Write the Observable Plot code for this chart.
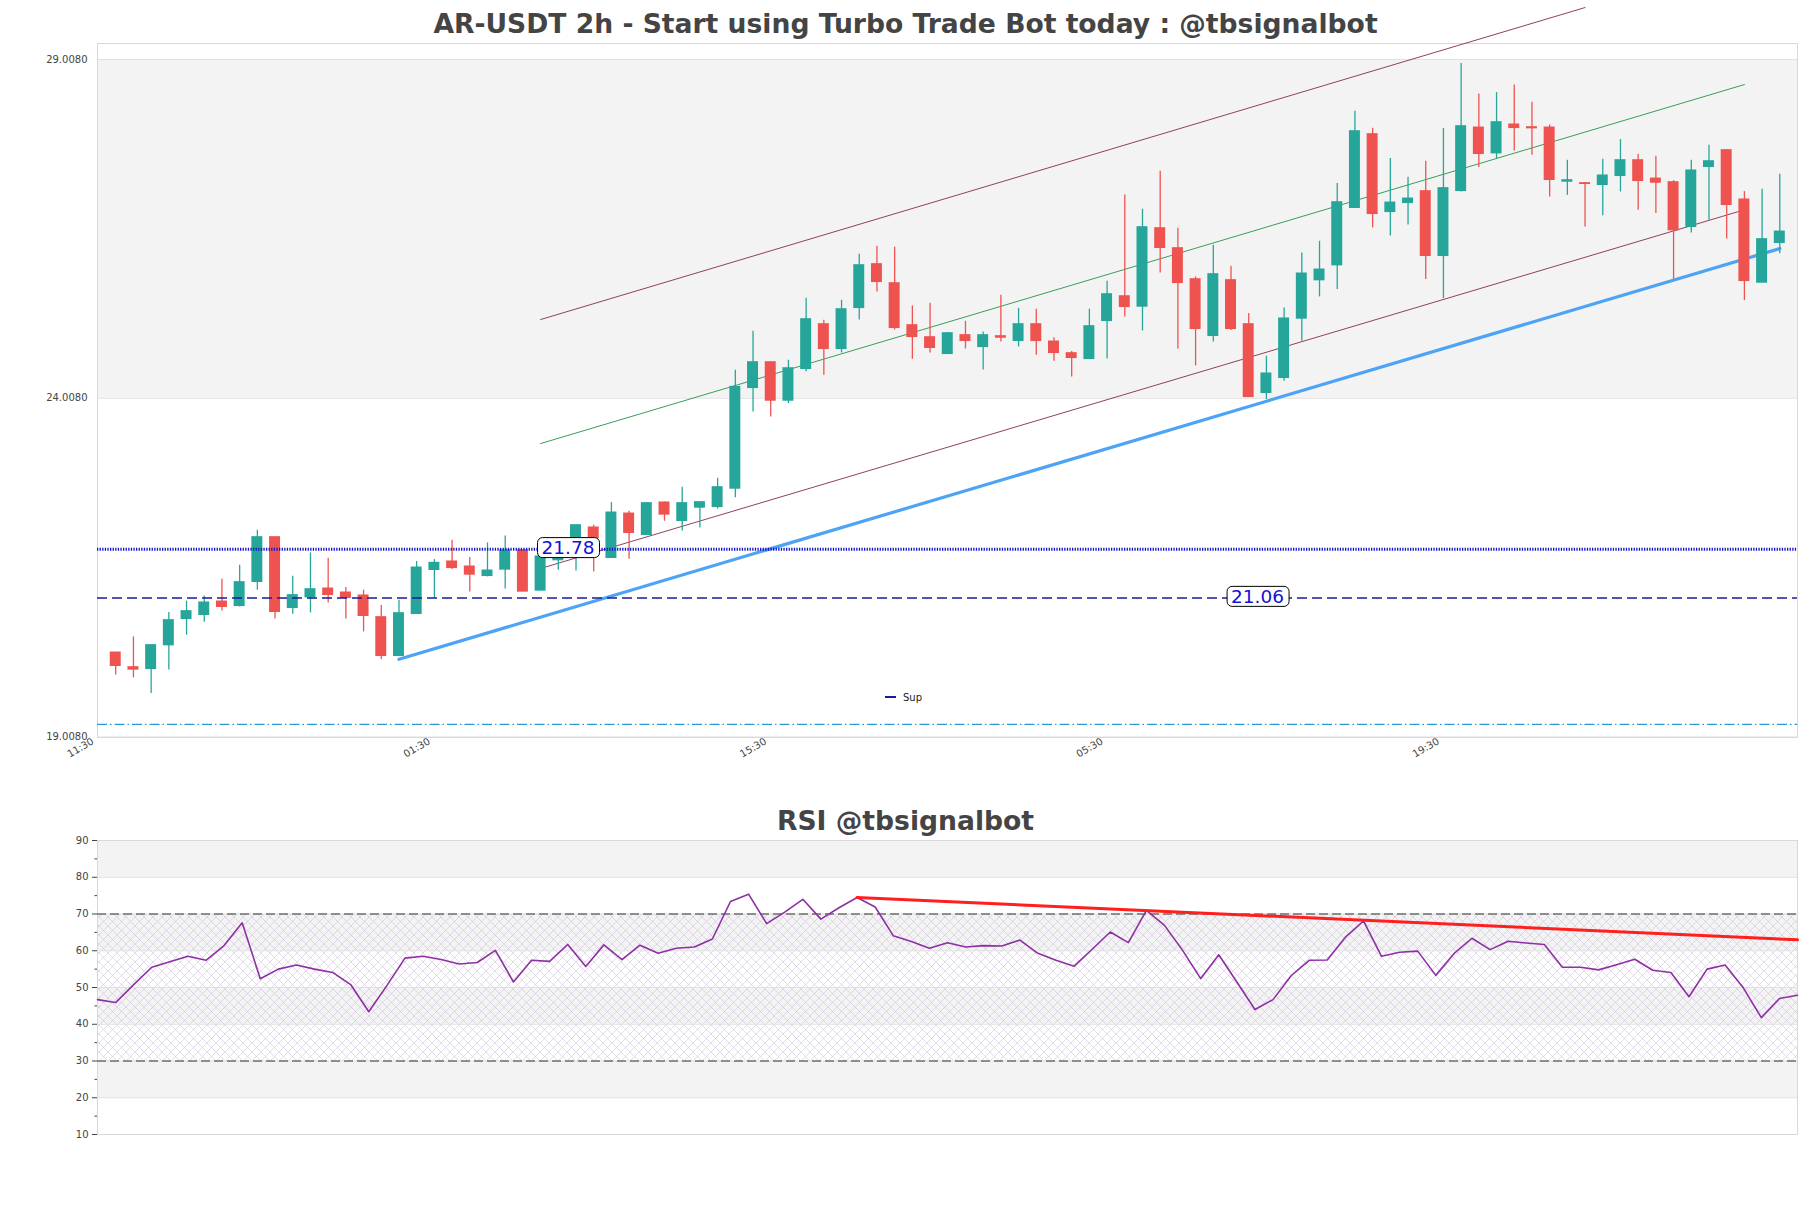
<!DOCTYPE html>
<html>
<head>
<meta charset="utf-8">
<script src="https://cdn.jsdelivr.net/npm/d3@7"></script>
<script src="https://cdn.jsdelivr.net/npm/@observablehq/plot@0.6"></script>
<style>
  html, body { margin: 0; padding: 0; background: #fff; }
  #fig { position: relative; width: 1811px; height: 1208px; overflow: hidden; background: #fff; font-family: "DejaVu Sans", sans-serif; }
  #fig > svg { position: absolute; left: 0; }
</style>
</head>
<body>
<div id="fig">
  <svg id="overlay" width="1811" height="1208" style="top:0">
    <defs>
      <pattern id="rsiHatch" patternUnits="userSpaceOnUse" width="9" height="9">
        <path d="M0,0 L9,9 M9,0 L0,9" stroke="#c4b5d2" stroke-width="0.6" fill="none" opacity="0.8"/>
      </pattern>
    </defs>
  </svg>
</div>
<script>
// ---------------- DATA ----------------
const chartTitle = "AR-USDT 2h - Start using Turbo Trade Bot today : @tbsignalbot";
const rsiTitle = "RSI @tbsignalbot";

const candleOpen = [20.253,20.037,20.012,20.362,20.750,20.810,21.006,20.942,21.297,21.956,
  20.913,21.070,21.198,21.139,21.095,20.775,20.204,20.824,21.474,21.597,
  21.523,21.385,21.479,21.764,21.169,21.617,21.676,22.099,21.651,22.305,
  21.991,22.468,22.197,22.394,22.403,22.674,24.160,24.539,23.973,24.441,
  25.100,24.736,25.341,25.986,25.705,25.085,24.908,24.662,24.938,24.765,
  24.923,24.854,25.100,24.844,24.672,24.588,25.149,25.513,25.361,26.517,
  26.222,25.764,24.928,25.750,25.100,24.086,24.308,25.184,25.750,25.971,
  26.818,27.905,26.758,26.891,27.064,26.109,27.068,28.003,27.624,28.048,
  28.008,28.003,27.206,27.182,27.157,27.290,27.521,27.250,27.196,26.537,
  27.423,27.669,26.941,25.715,26.301];
const candleHigh = [20.253,20.485,20.362,20.844,21.011,21.090,21.336,21.543,22.059,21.956,
  21.380,21.725,21.646,21.213,21.174,20.947,21.026,21.597,21.626,21.912,
  21.656,21.872,21.976,21.764,21.671,21.705,22.133,22.133,22.468,22.340,
  22.468,22.478,22.694,22.473,22.827,24.421,24.997,24.544,24.569,25.484,
  25.159,25.454,26.133,26.251,26.237,25.371,25.410,24.977,25.144,24.987,
  25.528,25.336,25.322,24.903,24.697,25.322,25.735,27.009,26.798,27.359,
  26.517,25.799,26.266,25.956,25.258,24.628,25.341,26.153,26.325,27.177,
  28.245,27.994,27.546,27.270,27.506,27.989,28.948,28.500,28.520,28.633,
  28.377,28.043,27.521,27.192,27.536,27.826,27.610,27.580,27.221,27.521,
  27.742,27.669,27.059,27.093,27.314];
const candleLow = [19.924,19.880,19.648,19.998,20.509,20.701,20.869,20.928,21.174,20.750,
  20.819,20.839,20.987,20.750,20.559,20.150,20.204,20.824,21.060,21.479,
  21.149,21.371,21.193,21.154,21.169,21.469,21.459,21.444,21.651,21.631,
  21.991,22.192,22.049,22.093,22.374,22.541,23.806,23.732,23.929,24.401,
  24.347,24.677,25.164,25.577,25.016,24.583,24.677,24.662,24.736,24.426,
  24.839,24.765,24.642,24.554,24.322,24.578,24.588,25.208,25.002,25.858,
  24.736,24.485,24.839,25.007,24.027,23.988,24.259,24.849,25.504,25.612,
  26.818,26.522,26.404,26.567,25.760,25.479,27.054,27.413,27.546,27.659,
  27.595,26.980,27.004,26.537,26.704,27.054,26.783,26.734,25.760,26.448,
  26.635,26.360,25.450,25.715,26.143];
const candleClose = [20.057,20.003,20.362,20.731,20.864,20.992,20.928,21.292,21.956,20.854,
  21.100,21.188,21.105,21.060,20.795,20.204,20.834,21.508,21.577,21.503,
  21.405,21.464,21.764,21.154,21.671,21.666,22.133,21.946,22.320,22.020,
  22.458,22.291,22.458,22.473,22.694,24.175,24.539,23.973,24.450,25.174,
  24.736,25.321,25.971,25.725,25.046,24.913,24.751,24.967,24.854,24.938,
  24.903,25.100,24.854,24.677,24.603,25.071,25.543,25.356,26.532,26.227,
  25.710,25.031,25.838,25.031,24.027,24.372,25.184,25.848,25.907,26.901,
  27.949,26.729,26.896,26.955,26.109,27.108,28.023,27.615,28.082,27.998,
  27.994,27.231,27.226,27.172,27.295,27.521,27.216,27.191,26.488,27.369,
  27.506,26.862,25.740,26.355,26.468];

const xTickIndex = [-1, 18, 37, 56, 75];
const xTickLabels = ["11:30", "01:30", "15:30", "05:30", "19:30"];
const priceTicks = [19.008, 24.008, 29.008];
const priceBands = [[24.008, 29.008]];

const supportLine = [{i: 16, v: 20.155}, {i: 94, v: 26.218}];
const channelUpper = [{i: 24, v: 25.170}, {i: 83, v: 29.776}];
const channelMid = [{i: 24, v: 23.339}, {i: 92, v: 28.639}];
const channelLower = [{i: 24, v: 21.495}, {i: 92, v: 26.790}];

const levelDotted = [21.78];
const levelDashed = [21.06];
const levelDashDot = [19.195];
const levelLabels = [{at: 25.55, value: 21.78, text: "21.78"}, {at: 64.5, value: 21.06, text: "21.06"}];
const legendItems = ["Sup"];

const rsiValues = [46.7,45.9,50.8,55.5,57.0,58.5,57.4,61.4,67.6,52.4,
  55.0,56.1,55.0,54.1,50.8,43.4,50.5,58.0,58.5,57.6,
  56.4,56.8,60.1,51.5,57.4,57.1,61.7,55.7,61.6,57.6,
  61.5,59.3,60.7,61.0,63.2,73.4,75.4,67.4,70.5,74.0,
  68.6,71.7,74.5,71.9,64.1,62.5,60.7,62.2,61.0,61.4,
  61.3,62.9,59.3,57.4,55.8,60.4,65.1,62.2,71.0,66.9,
  60.1,52.4,58.9,51.5,44.0,46.7,53.2,57.4,57.5,63.7,
  68.1,58.5,59.6,59.9,53.3,59.2,63.4,60.3,62.6,62.1,
  61.7,55.5,55.5,54.8,56.2,57.7,54.7,54.1,47.5,55.0,
  56.1,49.9,41.8,47.0,47.9];
const rsiTrend = [{j: 42, v: 74.49}, {j: 94, v: 62.97}];
const rsiTicks = [10, 20, 30, 40, 50, 60, 70, 80, 90];
const rsiMinorTicks = [15, 25, 35, 45, 55, 65, 75, 85];
const rsiGrayBands = [[80, 90], [60, 70], [40, 50], [20, 30]];
const rsiHatchBand = [[30, 70]];
const rsiDashed = [30, 70];

// ---------------- STYLE ----------------
const GREEN = "#26a69a", RED = "#ef5350";
const FONT = "DejaVu Sans";

const candles = candleOpen.map((o, i) => ({i, o, h: candleHigh[i], l: candleLow[i], c: candleClose[i]}));
const colorOf = d => d.c >= d.o ? GREEN : RED;

const fig = document.getElementById("fig");
const overlay = d3.select("#overlay");

// main chart
const main = Plot.plot({
  width: 1811, height: 790,
  marginTop: 43, marginBottom: 53, marginLeft: 97, marginRight: 14,
  style: {fontFamily: FONT, fontSize: "10px", color: "#444", background: "transparent", overflow: "visible"},
  color: {type: "identity"},
  x: {domain: [-1.03, 95.0]},
  y: {domain: [19.0, 29.245]},
  marks: [
    Plot.rect(priceBands, {y1: d => d[0], y2: d => d[1], fill: "#f3f3f3"}),
    Plot.ruleY(priceTicks, {stroke: "#e1e1e1", strokeWidth: 1}),
    Plot.frame({stroke: "#d8d8d8"}),
    Plot.axisY({ticks: priceTicks, tickFormat: d => d.toFixed(4), tickSize: 0, tickPadding: 10, label: null}),
    Plot.axisX({ticks: xTickIndex, tickFormat: d => xTickLabels[xTickIndex.indexOf(d)], tickRotate: -30, tickSize: 0, tickPadding: 3, dx: -5, label: null}),
    Plot.line(channelUpper, {x: "i", y: "v", stroke: "#8d4358", strokeWidth: 1}),
    Plot.line(channelMid, {x: "i", y: "v", stroke: "#3a9e58", strokeWidth: 1}),
    Plot.line(channelLower, {x: "i", y: "v", stroke: "#8d4358", strokeWidth: 1}),
    Plot.line(supportLine, {x: "i", y: "v", stroke: "#4da3f5", strokeWidth: 3.2}),
    Plot.ruleX(candles, {x: "i", y1: "l", y2: "h", stroke: colorOf, strokeWidth: 1.3}),
    Plot.rect(candles, {x1: d => d.i - 0.31, x2: d => d.i + 0.31, y1: d => Math.min(d.o, d.c), y2: d => Math.max(d.o, d.c), fill: colorOf, insetTop: -0.6, insetBottom: -0.6}),
    Plot.ruleY(levelDashDot, {stroke: "#2a9ad6", strokeWidth: 1.3, strokeDasharray: "10,3,1.5,3"}),
    Plot.ruleY(levelDashed, {stroke: "#1a1a9c", strokeWidth: 1.5, strokeDasharray: "10,5"}),
    Plot.ruleY(levelDotted, {stroke: "#1515c8", strokeWidth: 3, strokeDasharray: "1.3,1.3"}),
    Plot.text(levelLabels, {x: "at", y: "value", text: "text", fill: "#1212d6", fontSize: 18.5, dy: -1, className: "lvl-label"})
  ]
});
main.style.top = "0px";
fig.appendChild(main);

// rounded boxes behind level labels
d3.select(main).selectAll(".lvl-label text").each(function() {
  const bb = this.getBBox();
  const r = document.createElementNS("http://www.w3.org/2000/svg", "rect");
  const tf = this.getAttribute("transform");
  if (tf) r.setAttribute("transform", tf);
  r.setAttribute("x", bb.x - 4);
  r.setAttribute("y", bb.y + 0.5);
  r.setAttribute("width", bb.width + 9);
  r.setAttribute("height", bb.height - 1);
  r.setAttribute("rx", 5);
  r.setAttribute("fill", "#fff");
  r.setAttribute("stroke", "#000");
  r.setAttribute("stroke-width", 1);
  this.parentNode.insertBefore(r, this);
});

// RSI chart
const rsi = Plot.plot({
  width: 1811, height: 360,
  marginTop: 40, marginBottom: 26, marginLeft: 97, marginRight: 14,
  style: {fontFamily: FONT, fontSize: "10px", color: "#444", background: "transparent", overflow: "visible"},
  x: {domain: [0, 94], axis: null},
  y: {domain: [10, 90]},
  marks: [
    Plot.rect(rsiGrayBands, {y1: d => d[0], y2: d => d[1], fill: "#f3f3f3"}),
    Plot.rect(rsiHatchBand, {y1: d => d[0], y2: d => d[1], fill: "#ffffff", className: "rsi-hatch"}),
    Plot.ruleY(rsiTicks, {stroke: "#e0e0e0"}),
    Plot.frame({stroke: "#d8d8d8"}),
    Plot.ruleY(rsiDashed, {stroke: "#333", strokeWidth: 1.2, strokeDasharray: "9,4"}),
    Plot.axisY({ticks: rsiTicks, tickSize: 5, tickPadding: 4, tickFormat: d => String(d), label: null}),
    Plot.axisY({ticks: rsiMinorTicks, tickSize: 2.5, tickFormat: () => "", label: null}),
    Plot.line(rsiValues, {x: (d, j) => j, y: d => d, stroke: "#8e2fa3", strokeWidth: 1.6}),
    Plot.line(rsiTrend, {x: "j", y: "v", stroke: "#ff1f1f", strokeWidth: 3})
  ]
});
rsi.style.top = "800px";
fig.appendChild(rsi);
d3.select(rsi).selectAll(".rsi-hatch rect").attr("fill", "url(#rsiHatch)");

// titles and legend
overlay.append("text").attr("x", 905.5).attr("y", 32.5).attr("text-anchor", "middle")
  .attr("font-family", FONT).attr("font-weight", "bold").attr("font-size", 26.6).attr("fill", "#444")
  .text(chartTitle);
overlay.append("text").attr("x", 905.5).attr("y", 829.5).attr("text-anchor", "middle")
  .attr("font-family", FONT).attr("font-weight", "bold").attr("font-size", 26.6).attr("fill", "#444")
  .text(rsiTitle);
const lg = overlay.append("g").attr("transform", "translate(885,697)");
lg.append("line").attr("x1", 0).attr("x2", 11).attr("y1", 0).attr("y2", 0).attr("stroke", "#1a1a9c").attr("stroke-width", 2);
lg.append("text").attr("x", 18).attr("y", 3.5).attr("font-family", FONT).attr("font-size", 10).attr("fill", "#222").text(legendItems[0]);
</script>
</body>
</html>
